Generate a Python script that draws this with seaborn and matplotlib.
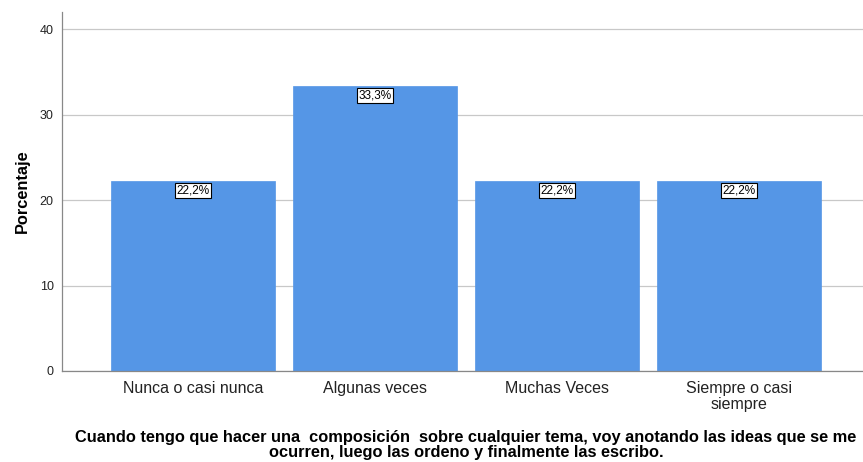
import matplotlib
matplotlib.use("Agg")
import matplotlib.pyplot as plt
import seaborn as sns
import pandas as pd

# ── data ────────────────────────────────────────────────────────────────
categories = ["Nunca o casi nunca", "Algunas veces", "Muchas Veces", "Siempre o casi\nsiempre"]
percentages = [22.2, 33.3, 22.2, 22.2]
y_ticks = [0, 10, 20, 30, 40]

BAR_COLOR = "#5596E6"
GRID_COLOR = "#C8C8C8"
TEXT_COLOR = "#222222"

sns.set_theme(style="white")
plt.rcParams["font.family"] = ["Liberation Sans", "DejaVu Sans"]

df = pd.DataFrame({"cat": categories, "pct": percentages})

fig = plt.figure(figsize=(8.63, 4.62), dpi=100)
ax = fig.add_axes([0.0718, 0.197, 0.9282, 0.777])

sns.barplot(data=df, x="cat", y="pct", color=BAR_COLOR, saturation=1,
            width=0.9, edgecolor=BAR_COLOR, linewidth=0.5, ax=ax, zorder=2)

ax.set_xlim(-0.72, 3.68)
ax.set_ylim(0, 42)
ax.set_yticks(y_ticks)
ax.yaxis.grid(True, color=GRID_COLOR, linewidth=0.9, zorder=0)
ax.set_axisbelow(True)

for side in ["top", "right"]:
    ax.spines[side].set_visible(False)
for side in ["left", "bottom"]:
    ax.spines[side].set_color("#888888")
    ax.spines[side].set_linewidth(0.9)

ax.tick_params(axis="y", length=2, color="#888888", labelsize=9, labelcolor=TEXT_COLOR, pad=4)
ax.tick_params(axis="x", length=0, labelsize=11.5, labelcolor=TEXT_COLOR, pad=7)
for lbl in ax.get_xticklabels():
    lbl.set_linespacing(1.1)

ax.set_xlabel("")
ax.set_ylabel("Porcentaje", fontsize=11.8, fontweight="bold", color="black", labelpad=7)

for i, v in enumerate(percentages):
    ax.text(i, v - 0.35, f"{v:.1f}%".replace(".", ","), ha="center", va="top",
            fontsize=8.5, color="black", zorder=5,
            bbox=dict(boxstyle="square,pad=0.12", facecolor="white",
                      edgecolor="black", linewidth=0.8))

fig.text(466 / 863, 1 - 445 / 462,
         "Cuando tengo que hacer una  composición  sobre cualquier tema, voy anotando las ideas que se me\n"
         "ocurren, luego las ordeno y finalmente las escribo.",
         ha="center", va="center", fontsize=11.8, fontweight="bold", color="black",
         linespacing=1.0)

fig.savefig("out.png", dpi=100, facecolor="white")
